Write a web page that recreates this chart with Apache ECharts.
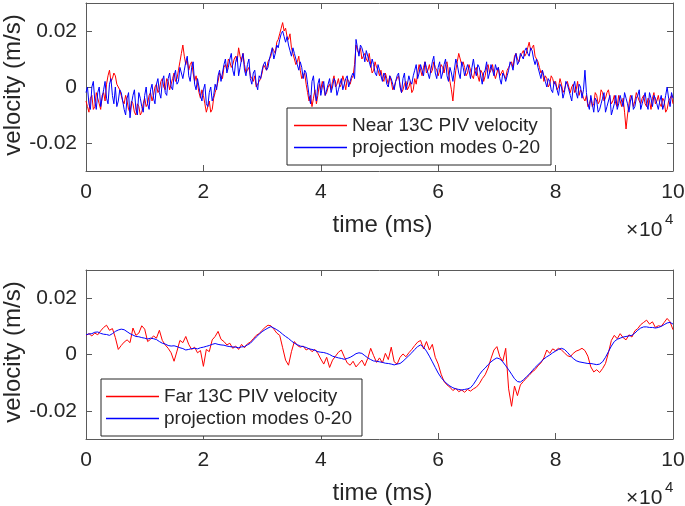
<!DOCTYPE html>
<html>
<head>
<meta charset="utf-8">
<script src="https://cdn.jsdelivr.net/npm/echarts@6/dist/echarts.min.js"></script>
<style>
html,body{margin:0;padding:0;background:#fff;}
#chart{width:685px;height:506px;}
</style>
</head>
<body>
<div id="chart"></div>
<script>
// time samples (ms): main samples every 500 ms from 0 to 100000,
// the near-wall (top) records also have a sample half-way between them
const sampleStepMs = 500;
const sampleCount = 201;

// velocities in units of 1e-3 m/s
const nearPiv = [
-5,-9,-3,-7,-4,-8,-2,1,6,3,
4,0,-3,-6,-5,-9,-6,-10,-7,-9,
-4,-6,-2,-3,1,-1,3,-1,2,1,
5,3,9,15,8,6,9,2,1,-4,
-3,-9,-5,-8,-2,2,4,7,6,9,
8,11,14,9,8,6,4,2,0,2,
5,7,9,11,13,16,19,23,21,17,
14,10,9,6,4,1,-5,-7,-1,-3,
-1,0,-2,1,2,0,3,1,2,3,
1,4,15,12,10,12,9,8,6,7,
4,3,5,1,2,0,3,1,-1,2,
0,-2,3,5,6,7,5,8,6,7,
4,8,5,9,2,-5,6,12,8,7,
5,6,3,7,2,5,4,8,6,5,
5,4,6,3,7,9,11,10,11,13,
12,16,14,11,9,5,2,3,1,3,
2,0,1,-1,2,-2,1,-1,-3,-2,
-5,-7,-4,-6,-3,-5,-2,-4,-1,-6,
-3,-7,-5,-4,-15,-6,-4,-5,-2,-6,
-3,-7,-5,-4,-6,-3,-7,-5,-8,-4,
-6];
const nearPivMid = [
-7,-4,-8,-2,-6,-3,-5,4,2,5,
1,-1,-5,-3,-8,-5,-9,-6,-10,-6,
-7,-3,-5,0,-2,2,0,3,-1,3,
2,6,12,11,10,8,5,4,-2,-1,
-6,-7,-9,-4,0,5,3,8,10,7,
10,9,11,12,5,7,3,4,1,3,
8,6,10,14,12,17,21,20,18,19,
12,8,11,3,5,-2,-3,-4,-6,1,
2,-3,0,-1,4,1,0,4,-1,2,
3,8,13,14,11,10,12,5,9,6,
6,2,3,4,-1,2,4,-2,1,-1,
2,-1,1,8,4,9,6,5,9,6,
6,7,8,5,-1,1,9,10,9,4,
8,4,6,4,6,2,7,5,8,3,
7,5,4,6,8,7,12,9,12,11,
14,13,15,10,7,6,4,0,4,1,
-1,3,-2,1,0,0,-2,2,-1,-4,
-3,-6,-7,-2,-6,-1,-5,-2,-4,-5,
-6,-3,-7,-9,-10,-3,-7,-2,-5,-4,
-6,-4,-8,-2,-5,-6,-4,-9,-5,-3];
const nearProj = [
-2,-6,0,-5,-2,-7,-1,-4,1,-3,
0,-5,-2,-8,-4,-11,-3,-8,-2,-7,
-3,-6,-1,-4,1,-2,2,-2,3,0,
4,1,7,3,9,4,7,1,3,-3,
-1,-6,-2,-5,1,4,2,8,5,10,
6,9,4,10,6,8,3,5,1,4,
6,9,7,12,10,15,17,20,16,15,
11,12,8,9,3,5,-3,2,-2,1,
-3,2,-1,3,0,2,-1,3,1,4,
2,5,17,11,14,9,11,7,8,4,
6,2,4,0,3,-1,4,0,3,-1,
4,1,6,3,8,4,7,3,9,5,
7,3,8,4,7,2,10,5,9,4,
8,3,10,4,7,1,6,3,8,4,
6,3,5,2,6,8,10,8,12,10,
14,11,13,8,7,3,4,0,2,-2,
1,-3,0,-2,1,-3,0,-2,1,-4,
6,-6,-3,-9,-5,-8,-4,-9,-5,-10,
-6,-8,-3,-7,-4,-9,-3,-7,-3,-8,
-4,-6,-2,-7,-4,-8,-3,-6,0,-7,
-4];
const nearProjMid = [
0,-8,2,-8,0,-4,2,-6,3,-6,
-7,-1,-5,-10,-2,-6,-1,-10,-4,-9,
0,-8,1,-6,3,-4,4,-3,5,-1,
6,2,5,6,11,2,9,-1,0,-5,
1,-7,0,-3,-1,6,5,10,7,12,
4,11,7,12,4,10,1,6,-1,3,
8,6,10,14,12,14,19,18,18,13,
14,10,6,7,6,1,-6,4,-5,3,
0,-3,1,-2,3,-3,1,-1,3,0,
4,3,14,15,12,13,9,10,5,8,
4,5,1,4,1,2,5,-2,5,1,
2,4,8,5,6,9,5,6,11,3,
9,5,10,2,5,6,8,3,7,6,
6,7,6,8,4,5,9,5,6,8,
7,1,4,4,9,6,12,9,11,13,
12,14,10,10,5,6,2,3,-1,2,
-1,1,-4,2,-1,-5,2,-4,0,-1,
-2,-8,-6,-4,-9,-6,-2,-7,-3,-8,
-3,-6,-5,-2,-6,-5,-8,-4,-1,-6,
-2,-8,-4,-3,-6,-5,-8,-3,-4,-2];
const farPiv = [
6.8,7.4,6.6,7.6,7.0,8.4,9.6,10.4,8.6,9.2,
6.0,1.8,3.2,4.4,5.2,4.2,9.4,6.8,7.6,10.2,
9.0,4.6,5.4,6.6,5.8,8.6,5.0,3.4,2.2,0.6,
-2.4,1.2,5.0,4.2,6.4,3.6,1.8,2.6,0.6,1.4,
-4.2,1.8,1.0,5.2,6.4,8.2,5.4,4.6,3.4,4.0,
2.2,3.0,1.8,3.6,2.4,3.8,4.4,5.6,6.8,7.4,
8.6,9.6,10.4,10.2,9.0,7.6,6.8,2.4,-2.0,-3.8,
1.0,4.6,3.2,2.6,3.0,1.6,2.2,1.0,1.8,0.4,
-1.6,-3.4,-1.0,-4.6,-2.0,-0.6,0.8,1.6,-0.8,-3.0,
-3.8,-2.4,-4.4,-3.2,-2.0,-4.0,-1.4,2.2,-0.4,-2.8,
-1.2,-3.0,0.4,-1.8,2.6,-2.6,-3.4,-1.0,0.2,-0.8,
0.6,1.8,3.2,4.4,5.0,2.0,4.6,1.6,3.6,-1.0,
-3.4,-7.0,-9.6,-10.8,-11.6,-12.8,-12.0,-13.2,-12.6,-13.4,
-12.4,-13.0,-12.2,-11.6,-10.4,-8.6,-7.2,-4.8,-1.4,1.6,
2.8,-0.8,-2.4,2.2,-12.2,-18.4,-11.2,-14.6,-10.8,-9.6,
-8.4,-7.4,-6.2,-5.4,-4.0,-3.0,-1.2,1.6,0.4,2.0,
1.4,2.2,1.6,0.6,-0.4,-0.8,0.4,1.2,1.6,2.2,
1.4,-0.6,-4.4,-6.2,-5.4,-6.4,-5.0,-3.2,0.6,5.0,
6.8,5.6,7.4,6.0,5.2,7.0,6.2,8.4,9.2,10.6,
11.4,12.2,10.8,11.6,9.6,10.2,10.0,11.4,12.8,11.6,
8.8];
const farProj = [
7.0,7.3,7.4,7.9,8.0,7.5,7.2,7.1,6.8,7.4,
8.2,8.7,9.0,8.8,8.1,7.4,6.9,6.4,6.3,6.0,
5.8,5.5,5.8,5.6,5.3,4.6,4.0,3.7,3.2,3.0,
3.1,2.8,2.4,2.1,1.6,1.8,2.1,2.2,2.0,2.4,
2.6,2.9,3.2,3.6,3.9,3.6,3.4,3.3,3.0,2.8,
2.7,2.6,2.4,2.7,2.8,3.4,4.0,5.1,6.2,7.2,
8.1,8.8,9.4,9.9,9.4,8.8,8.1,7.2,6.4,5.7,
4.8,4.0,3.5,3.0,2.8,2.5,2.0,1.8,1.5,1.0,
0.8,0.7,0.4,0.0,-0.6,-0.9,-1.2,-1.4,-1.7,-1.4,
-1.0,-0.4,0.3,0.6,0.4,-0.4,-1.2,-1.8,-2.3,-2.4,
-2.6,-2.8,-3.1,-3.2,-3.4,-3.7,-3.4,-3.2,-2.4,-1.4,
-0.4,0.6,1.8,2.8,3.4,2.6,1.2,-0.6,-2.6,-4.6,
-6.6,-8.2,-9.4,-10.4,-11.2,-11.8,-12.2,-12.4,-12.6,-12.4,
-12.2,-11.8,-10.6,-9.0,-7.2,-5.8,-4.8,-3.6,-2.6,-1.8,
-1.2,-1.6,-2.6,-4.0,-5.4,-7.0,-8.6,-9.6,-9.8,-9.0,
-8.0,-7.0,-5.8,-4.6,-3.6,-2.6,-1.6,-0.8,-0.2,0.6,
1.2,1.8,2.2,1.8,0.8,-0.4,-1.4,-2.2,-2.6,-2.8,
-3.0,-3.2,-3.2,-3.4,-3.6,-3.4,-2.6,-1.0,1.0,3.0,
4.6,5.4,5.8,6.2,6.4,6.6,6.8,7.6,8.6,9.4,
9.8,9.8,9.6,9.6,9.4,9.6,10.0,10.6,11.2,11.4,
10.8];

const yTickValues = [-0.02, 0, 0.02];
const xTickLabelScale = 10000;
const seriesNames = ['Near 13C PIV velocity', 'Far 13C PIV velocity', 'projection modes 0-20'];
const yAxisTitle = 'velocity (m/s)';
const xAxisTitle = 'time (ms)';

const time = [];
for (let i = 0; i < sampleCount; i++) time.push(i * sampleStepMs);
const toPairs = arr => time.map((t, i) => [t, arr[i] / 1000]);
function toPairsWithMid(arr, mid) {
  const out = [];
  for (let i = 0; i < time.length; i++) {
    out.push([time[i], arr[i] / 1000]);
    if (i < mid.length) out.push([time[i] + sampleStepMs / 2, mid[i] / 1000]);
  }
  return out;
}

const FONT = 'Liberation Sans, Arial, Helvetica, sans-serif';
const TXT = '#262626';
const AX = '#5a5a5a';

const grids = [
  {left: 86, right: 12, top: 3, height: 168, containLabel: false, outerBoundsMode: 'none'},
  {left: 86, right: 12, top: 270, height: 169, containLabel: false, outerBoundsMode: 'none'}
];

const xAxes = [], yAxes = [];
grids.forEach((g, gi) => {
  xAxes.push({
    type: 'value', gridIndex: gi, position: 'bottom', min: 0, max: 100000, interval: 20000,
    axisLine: {show: true, onZero: false, lineStyle: {color: AX, width: 1}},
    axisTick: {show: true, inside: true, length: 6, lineStyle: {color: AX}},
    axisLabel: {show: true, margin: 11, color: TXT, fontSize: 21, fontFamily: FONT,
      formatter: v => String(v / xTickLabelScale)},
    splitLine: {show: false},
    name: xAxisTitle, nameLocation: 'middle', nameGap: 42,
    nameTextStyle: {color: TXT, fontSize: 24, fontFamily: FONT, padding: [0, 0, 0, 6]}
  });
  xAxes.push({
    type: 'value', gridIndex: gi, position: 'top', min: 0, max: 100000, interval: 20000,
    axisLine: {show: true, onZero: false, lineStyle: {color: AX, width: 1}},
    axisTick: {show: true, inside: true, length: 6, lineStyle: {color: AX}},
    axisLabel: {show: false}, splitLine: {show: false}
  });
  yAxes.push({
    type: 'value', gridIndex: gi, position: 'left', min: -0.03, max: 0.03,
    axisLine: {show: true, onZero: false, lineStyle: {color: AX, width: 1}},
    axisTick: {show: true, inside: true, length: 6, customValues: yTickValues, lineStyle: {color: AX}},
    axisLabel: {show: true, margin: 9, color: TXT, fontSize: 21, fontFamily: FONT, customValues: yTickValues},
    splitLine: {show: false}
  });
  yAxes.push({
    type: 'value', gridIndex: gi, position: 'right', min: -0.03, max: 0.03,
    axisLine: {show: true, onZero: false, lineStyle: {color: AX, width: 1}},
    axisTick: {show: true, inside: true, length: 6, customValues: yTickValues, lineStyle: {color: AX}},
    axisLabel: {show: false}, splitLine: {show: false}
  });
});

function lineSeries(name, pairs, color, gi) {
  return {
    name: name, type: 'line', xAxisIndex: gi * 2, yAxisIndex: gi * 2,
    data: pairs, symbol: 'none', showSymbol: false, color: color,
    itemStyle: {color: color},
    lineStyle: {color: color, width: 1}, animation: false
  };
}

const legendBase = {
  orient: 'vertical', itemWidth: 53, itemHeight: 1.4, itemGap: 3, icon: 'rect',
  borderColor: '#262626', borderWidth: 1, backgroundColor: '#fff',
  textStyle: {color: TXT, fontSize: 19, fontFamily: FONT},
  selectedMode: false
};

function yTitle(cy) {
  return {type: 'text', x: 13, y: cy, rotation: Math.PI / 2,
    style: {text: yAxisTitle, font: '24px ' + FONT, fill: TXT, textAlign: 'center', align: 'center',
      textVerticalAlign: 'middle', verticalAlign: 'middle'}};
}
function exponent(y) {
  const st = (t, size) => ({text: t, font: size + 'px ' + FONT, fill: TXT, textVerticalAlign: 'top', verticalAlign: 'top'});
  return [
    {type: 'text', x: 626, y: y, style: st('×', 21)},
    {type: 'text', x: 639, y: y, style: st('10', 21)},
    {type: 'text', x: 665, y: y - 8, style: st('4', 15)}
  ];
}

const option = {
  backgroundColor: '#fff',
  animation: false,
  grid: grids,
  xAxis: xAxes,
  yAxis: yAxes,
  legend: [
    Object.assign({}, legendBase, {left: 287, top: 108, padding: [8, 11, 8, 7],
      data: [seriesNames[0], seriesNames[2]]}),
    Object.assign({}, legendBase, {left: 101, top: 379, padding: [8, 10, 8, 5],
      data: [seriesNames[1], seriesNames[2]]})
  ],
  series: [
    lineSeries(seriesNames[0], toPairsWithMid(nearPiv, nearPivMid), '#ff0000', 0),
    lineSeries(seriesNames[2], toPairsWithMid(nearProj, nearProjMid), '#0000ff', 0),
    lineSeries(seriesNames[1], toPairs(farPiv), '#ff0000', 1),
    lineSeries(seriesNames[2], toPairs(farProj), '#0000ff', 1)
  ],
  graphic: [yTitle(85), yTitle(352)].concat(exponent(220), exponent(488))
};

const chart = echarts.init(document.getElementById('chart'), null, {renderer: 'canvas'});
chart.setOption(option);
</script>
</body>
</html>
